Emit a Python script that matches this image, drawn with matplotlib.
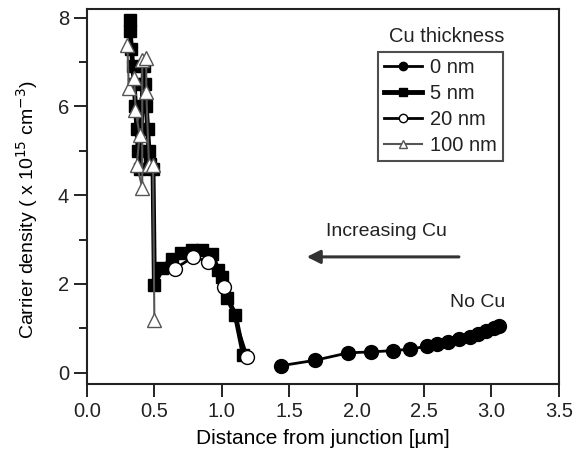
import matplotlib.pyplot as plt
from matplotlib.ticker import MultipleLocator

plt.rcParams['font.family'] = ['Liberation Sans', 'DejaVu Sans']
plt.rcParams['text.color'] = '#222222'
plt.rcParams['xtick.labelcolor'] = '#222222'
plt.rcParams['ytick.labelcolor'] = '#222222'

# 0 nm (no Cu)
x_0nm = [1.44, 1.69, 1.94, 2.11, 2.27, 2.40, 2.52, 2.60, 2.68, 2.76, 2.84, 2.90, 2.96, 3.02, 3.06]
y_0nm = [0.16, 0.28, 0.45, 0.47, 0.50, 0.53, 0.60, 0.65, 0.70, 0.75, 0.81, 0.87, 0.93, 1.00, 1.05]

# 5 nm
x_5nm = [0.32, 0.32, 0.33, 0.34, 0.35, 0.36, 0.37, 0.38, 0.39, 0.42, 0.43, 0.44, 0.45, 0.46, 0.47,
         0.49, 0.50, 0.56, 0.63, 0.70, 0.78, 0.85, 0.93, 0.97, 1.00, 1.04, 1.10, 1.16]
y_5nm = [7.95, 7.70, 7.30, 6.90, 6.50, 6.00, 5.50, 5.00, 4.60, 6.90, 6.50, 6.00, 5.50, 5.00, 4.70,
         4.60, 1.98, 2.36, 2.57, 2.70, 2.77, 2.77, 2.68, 2.32, 2.16, 1.69, 1.31, 0.41]

# 20 nm
x_20nm = [0.65, 0.79, 0.90, 1.02, 1.19]
y_20nm = [2.34, 2.61, 2.50, 1.94, 0.36]

# 100 nm
x_100nm = [0.30, 0.31, 0.35, 0.36, 0.39, 0.37, 0.41, 0.41, 0.44, 0.44, 0.46, 0.49, 0.50]
y_100nm = [7.39, 6.42, 6.64, 5.92, 5.36, 4.68, 4.17, 7.05, 7.09, 6.33, 4.68, 4.68, 1.19]

fig = plt.figure(figsize=(5.76, 4.57), dpi=100)
ax = fig.add_axes([0.151, 0.160, 0.819, 0.821])

ax.plot(x_5nm, y_5nm, '-s', color='black', lw=3.5, ms=9, mfc='black', mec='black', label='5 nm', zorder=2)
ax.plot(x_100nm, y_100nm, '-^', color='#555555', lw=1.5, ms=10, mfc='white', mec='#555555', mew=1, label='100 nm', zorder=3)
ax.plot(x_20nm, y_20nm, '-o', color='black', lw=2, ms=10, mfc='white', mec='black', mew=1, label='20 nm', zorder=3)
ax.plot(x_0nm, y_0nm, '-o', color='black', lw=2, ms=10, mfc='black', mec='black', label='0 nm', zorder=3)

ax.set_xlim(0, 3.5)
ax.set_ylim(-0.25, 8.2)
ax.xaxis.set_major_locator(MultipleLocator(0.5))
ax.yaxis.set_major_locator(MultipleLocator(2))
ax.yaxis.set_minor_locator(MultipleLocator(1))
ax.xaxis.set_major_formatter(plt.FormatStrFormatter('%.1f'))
ax.tick_params(which='major', direction='out', length=9.5, width=1.4, labelsize=14.5, color='#222222')
ax.tick_params(which='minor', direction='out', length=6, width=1.4, color='#222222')
for sp in ax.spines.values():
    sp.set_linewidth(1.5)
    sp.set_color('#222222')

ax.set_xlabel('Distance from junction [\u00b5m]', fontsize=15, labelpad=6)
ax.set_ylabel('Carrier density ( x 10$^{15}$ cm$^{-3}$)', fontsize=14)
ax.yaxis.set_label_coords(-0.10, 0.465)

ax.annotate('', xy=(1.61, 2.61), xytext=(2.78, 2.61),
            arrowprops=dict(arrowstyle='-|>', color='#333333', lw=2.2, mutation_scale=20))
ax.text(2.22, 3.18, 'Increasing Cu', fontsize=14, ha='center', va='center')
ax.text(2.90, 1.58, 'No Cu', fontsize=14, ha='center', va='center')

handles, labels = ax.get_legend_handles_labels()
order = [3, 0, 2, 1]
leg = ax.legend([handles[i] for i in order], [labels[i] for i in order],
                loc='upper left', bbox_to_anchor=(0.617, 0.885), fontsize=14.5,
                frameon=True, fancybox=False, edgecolor='#222222', handlelength=1.9,
                handletextpad=0.4, labelspacing=0.35, borderpad=0.3, borderaxespad=0,
                markerscale=0.6)
leg.get_frame().set_linewidth(1.5)
ax.text(0.763, 0.925, 'Cu thickness', transform=ax.transAxes, fontsize=14.5, ha='center', va='center')

fig.savefig('out.png', dpi=100)
